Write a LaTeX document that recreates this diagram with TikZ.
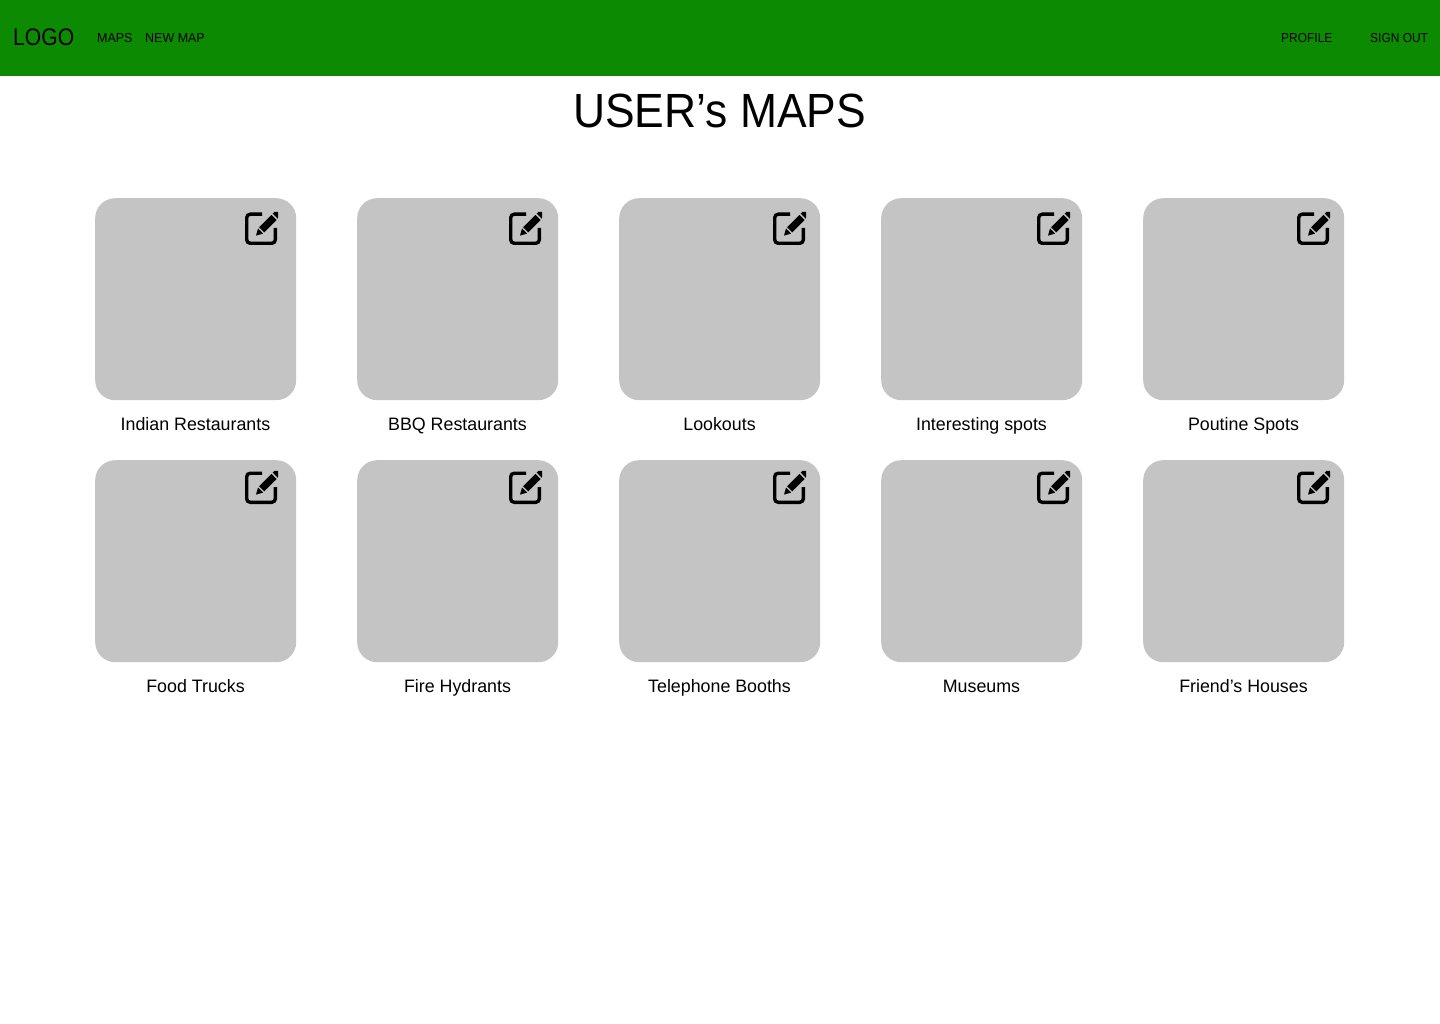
\documentclass[tikz,border=0pt]{standalone}
\usepackage{fontspec}
\setmainfont{Liberation Sans}
\newfontfamily\titlefont[FakeStretch=0.925]{Liberation Sans}
\newfontfamily\logofont[FakeStretch=0.88]{Liberation Sans}
\newfontfamily\navfont[FakeStretch=0.92]{Liberation Sans}
\newfontfamily\navleftfont[FakeStretch=0.96]{Liberation Sans}
\newfontfamily\lblfont[FakeStretch=0.99]{Liberation Sans}
\definecolor{barg}{HTML}{0B8A02}
\definecolor{cardg}{HTML}{C4C4C4}
\tikzset{
  card/.style={fill=cardg,rounded corners=20pt,minimum width=201pt,minimum height=202pt,inner sep=0pt,anchor=north west},
  lbl/.style={inner sep=0pt,anchor=base,font=\lblfont\fontsize{18}{20}\selectfont},
  nav/.style={inner sep=0pt,anchor=base west,font=\navfont\fontsize{13}{14}\selectfont},
  navleft/.style={inner sep=0pt,anchor=base west,font=\navleftfont\fontsize{13}{14}\selectfont},
  editicon/.pic={
    \draw[line width=3.4pt,rounded corners=3.5pt] (17,3.2) -- (1.7,3.2) -- (1.7,32.3) -- (30.3,32.3) -- (30.3,17);
    \fill (11,24.6) -- (13,17.5) -- (18.1,22.6) -- cycle;
    \fill (14.1,16.2) -- (26.5,3.8) -- (31.7,9) -- (19.3,21.4) -- cycle;
    \fill (27.7,2.6) -- (29.5,0.8) -- (33.1,0.8) -- (33.1,5.8) -- (32.9,7.8) -- cycle;
  }
}
\begin{document}
\begin{tikzpicture}[x=1pt,y=-1pt]
\useasboundingbox (0,0) rectangle (1440,1024);
\fill[white] (0,0) rectangle (1440,1024);
\node[fill=barg,minimum width=1440pt,minimum height=76pt,inner sep=0pt,anchor=north west] (bar) at (0,0) {};
\node[inner sep=0pt,anchor=base west,font=\logofont\fontsize{24}{26}\selectfont] (logo) at (13,46) {LOGO};
\node[navleft] (maps) at (97,42.5) {MAPS};
\node[navleft] (newmap) at (145,42.5) {NEW MAP};
\node[nav] (profile) at (1281,42.5) {PROFILE};
\node[nav] (signout) at (1370,42.5) {SIGN OUT};
\node[inner sep=0pt,anchor=base,font=\titlefont\fontsize{48}{52}\selectfont] (title) at (719.5,127.5) {USER’s MAPS};
\foreach \n/\x/\ix/\t in {a/95/245/Indian Restaurants,b/357/509/BBQ Restaurants,c/619/773/Lookouts,d/881/1037/Interesting spots,e/1143/1297/Poutine Spots}{
  \node[card] (card\n1) at (\x,198) {};
  \node[lbl] (label\n1) at (\x+100.5,430) {\t};
  \pic at (\ix,211) {editicon};
}
\foreach \n/\x/\ix/\t in {a/95/245/Food Trucks,b/357/509/Fire Hydrants,c/619/773/Telephone Booths,d/881/1037/Museums,e/1143/1297/Friend’s Houses}{
  \node[card] (card\n2) at (\x,460) {};
  \node[lbl] (label\n2) at (\x+100.5,692) {\t};
  \pic at (\ix,470) {editicon};
}
\end{tikzpicture}
\end{document}
